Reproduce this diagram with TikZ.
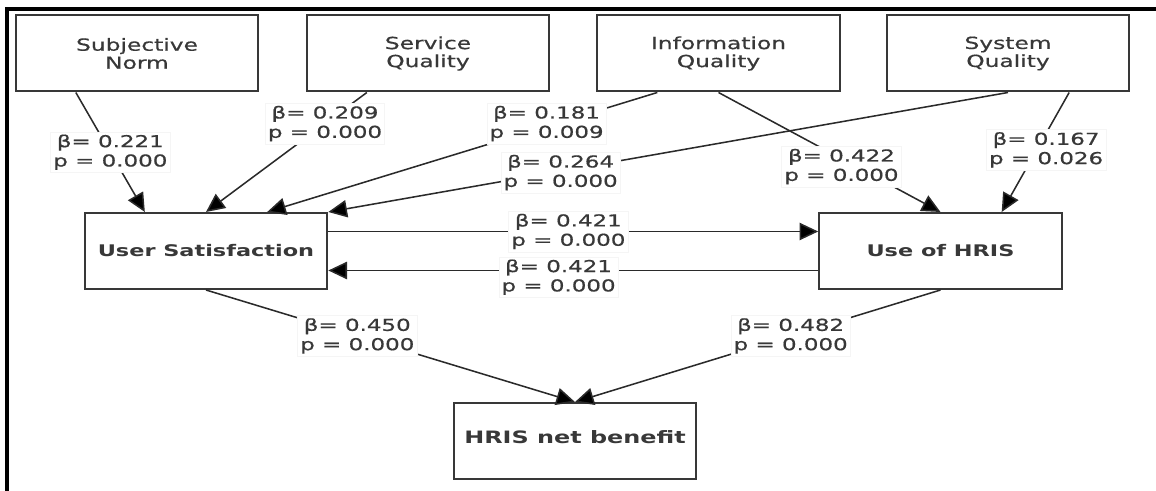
\documentclass[tikz,border=0pt]{standalone}
\usepackage{fontspec}
\setmainfont{DejaVu Sans}[FakeStretch=1.4, UprightFeatures={FakeBold=0.6}]
\usetikzlibrary{arrows.meta,calc}
\definecolor{ink}{HTML}{383838}
\definecolor{edgec}{HTML}{2A2A2A}
\begin{document}
\begin{tikzpicture}[x=0.75pt,y=-0.75pt,
  box/.style={draw=ink, line width=1.5pt, minimum width=182pt, minimum height=57pt,
    inner sep=0pt, align=center, text=ink, font=\fontsize{12.5}{13.5}\selectfont},
  bbox/.style={box, font=\fontsize{12}{13}\selectfont\bfseries},
  lbl/.style={fill=white, draw=gray!8, line width=0.4pt, align=center, inner sep=2pt,
    text=ink, font=\fontsize{12.3}{14.5}\selectfont},
  arr/.style={draw=edgec, line width=1.15pt, -{Triangle[length=14pt,width=13pt,fill=black]}}
]
\useasboundingbox (0,0) rectangle (1156,491);
\draw[line width=2.3pt] (7,491) -- (7,9) -- (1156,9);

\node[box]  (sn)  at (137,53.5)  {Subjective\\Norm};
\node[box]  (sq)  at (428,53.5)  {Service\\Quality};
\node[box]  (iq)  at (718.5,53.5) {Information\\Quality};
\node[box]  (sys) at (1008,53.5) {System\\Quality};
\node[bbox] (us)  at (206,251)   {User Satisfaction};
\node[bbox] (use) at (940.5,251) {Use of HRIS};
\node[bbox, font=\fontsize{12.8}{14}\selectfont\bfseries, text depth=6pt] (net) at (575,441) {HRIS net benefit};

\draw[arr] ($(sn.south west)!0.25!(sn.south east)$) -- node[lbl,pos=0.5] {β= 0.221\\p = 0.000} ($(us.north west)!0.25!(us.north east)$);
\draw[arr] ($(sq.south west)!0.25!(sq.south east)$) -- node[lbl,pos=0.26] {β= 0.209\\p = 0.000} (us.north);
\draw[arr] ($(iq.south west)!0.25!(iq.south east)$) -- node[lbl,pos=0.26,xshift=-7pt] {β= 0.181\\p = 0.009} ($(us.north west)!0.75!(us.north east)$);
\draw[arr] (sys.south) -- node[lbl,pos=0.67,xshift=6pt] {β= 0.264\\p = 0.000} (us.north east);
\draw[arr] (iq.south) -- node[lbl,pos=0.62,xshift=-11pt] {β= 0.422\\p = 0.000} (use.north);
\draw[arr] ($(sys.south west)!0.75!(sys.south east)$) -- node[lbl,pos=0.48,xshift=7pt] {β= 0.167\\p = 0.026} ($(use.north west)!0.75!(use.north east)$);
\draw[arr] ($(us.north east)!0.25!(us.south east)$) -- node[lbl,pos=0.49] {β= 0.421\\p = 0.000} ($(use.north west)!0.25!(use.south west)$);
\draw[arr] ($(use.north west)!0.75!(use.south west)$) -- node[lbl,pos=0.53,yshift=-5pt] {β= 0.421\\p = 0.000} ($(us.north east)!0.75!(us.south east)$);
\draw[arr] (us.south) -- node[lbl,pos=0.41] {β= 0.450\\p = 0.000} (net.north);
\draw[arr] (use.south) -- node[lbl,pos=0.41] {β= 0.482\\p = 0.000} (net.north);
\end{tikzpicture}
\end{document}
